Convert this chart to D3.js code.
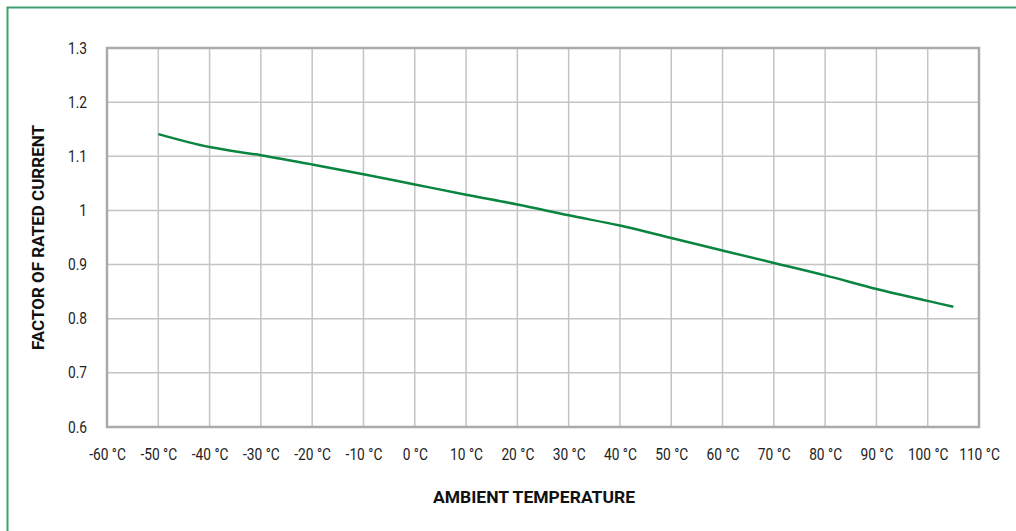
<!DOCTYPE html>
<html>
<head>
<meta charset="utf-8">
<script src="https://cdn.jsdelivr.net/npm/d3@7"></script>
<style>
  body { margin: 0; background: #fff; }
  svg { display: block; }
  .tick text { font-family: 'Roboto', sans-serif; font-size: 16px; fill: #222; }
  .title { font-family: 'Roboto', sans-serif; font-size: 17px; font-weight: bold; fill: #111; }
</style>
</head>
<body>
<svg id="chart" width="1016" height="531"></svg>
<script>
const temps = [-50, -40, -30, -20, -10, 0, 10, 20, 30, 40, 50, 60, 70, 80, 90, 100, 105]
const factors = [1.141, 1.117, 1.102, 1.085, 1.067, 1.048, 1.029, 1.011, 0.991, 0.972, 0.949, 0.926, 0.903, 0.880, 0.855, 0.833, 0.822]
const xTicks = d3.range(-60, 111, 10)
const yTicks = [0.6, 0.7, 0.8, 0.9, 1, 1.1, 1.2, 1.3]

const svg = d3.select('#chart')
const margin = { top: 48, right: 37, bottom: 104, left: 107 }
const w = 1016 - margin.left - margin.right
const h = 531 - margin.top - margin.bottom
const squeeze = 0.86

// outer frame, only top and left show
svg.append('path')
  .attr('d', 'M7.5,531 V7.5 H1016')
  .attr('fill', 'none')
  .attr('stroke', '#3f9f70')
  .attr('stroke-width', 2)

const x = d3.scaleLinear().domain([-60, 110]).range([0, w])
const y = d3.scaleLinear().domain([0.6, 1.3]).range([h, 0])

const g = svg.append('g')
  .attr('transform', `translate(${margin.left}, ${margin.top})`)

g.append('g').selectAll('line.v')
  .data(xTicks)
  .enter().append('line')
  .attr('x1', d => x(d)).attr('x2', d => x(d))
  .attr('y1', 0).attr('y2', h)
  .attr('stroke', '#c4c4c4')
  .attr('stroke-width', 1.5)

g.append('g').selectAll('line.h')
  .data(yTicks)
  .enter().append('line')
  .attr('x1', 0).attr('x2', w)
  .attr('y1', d => y(d)).attr('y2', d => y(d))
  .attr('stroke', '#c4c4c4')
  .attr('stroke-width', 1.5)

g.append('rect')
  .attr('width', w).attr('height', h)
  .attr('fill', 'none')
  .attr('stroke', '#aaaaae')
  .attr('stroke-width', 2.5)

const xAxis = d3.axisBottom(x)
  .tickValues(xTicks)
  .tickSize(0)
  .tickPadding(22)
  .tickFormat(d => `${d} °C`)
g.append('g')
  .attr('transform', `translate(0, ${h})`)
  .call(xAxis)
  .call(a => a.select('.domain').remove())
  .selectAll('text').attr('transform', `scale(${squeeze},1)`)

const yAxis = d3.axisLeft(y)
  .tickValues(yTicks)
  .tickSize(0)
  .tickPadding(20 / squeeze)
  .tickFormat(d => d === 1 ? '1' : d3.format('.1f')(d))
g.append('g')
  .call(yAxis)
  .call(a => a.select('.domain').remove())
  .selectAll('text').attr('transform', `scale(${squeeze},1)`)

const line = d3.line()
  .x((d, i) => x(temps[i]))
  .y(d => y(d))
  .curve(d3.curveMonotoneX)

g.append('path')
  .datum(factors)
  .attr('d', line)
  .attr('fill', 'none')
  .attr('stroke', '#0a8540')
  .attr('stroke-width', 2.5)

svg.append('text')
  .attr('class', 'title')
  .attr('x', 534).attr('y', 503)
  .attr('text-anchor', 'middle')
  .attr('textLength', 202)
  .attr('lengthAdjust', 'spacingAndGlyphs')
  .text('AMBIENT TEMPERATURE')

svg.append('text')
  .attr('class', 'title')
  .attr('transform', `translate(44, ${margin.top + h / 2}) rotate(-90)`)
  .attr('text-anchor', 'middle')
  .attr('textLength', 225)
  .attr('lengthAdjust', 'spacingAndGlyphs')
  .text('FACTOR OF RATED CURRENT')
</script>
</body>
</html>
